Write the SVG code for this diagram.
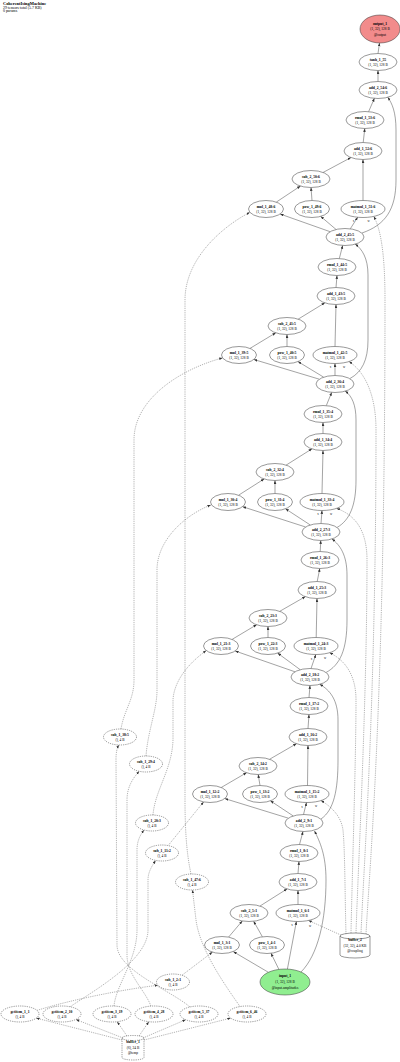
<svg xmlns="http://www.w3.org/2000/svg" width="400" height="1062" viewBox="0 0 400 1062">
<defs>
<marker id="ah" markerWidth="4" markerHeight="3" refX="3.4" refY="1.3" orient="auto" markerUnits="userSpaceOnUse"><path d="M0,0 L3.4,1.3 L0,2.6 z" fill="#333"/></marker>
</defs>
<style>
.nd ellipse,.nd path{fill:#fff;stroke:#333;stroke-width:0.5}
.ds ellipse,.ds path{stroke-dasharray:1.2,1}
text{font-family:'Liberation Serif','Times New Roman',serif;font-size:3.5px;text-anchor:middle;fill:#000}
.b{font-weight:bold;font-size:3.7px}
#edges path{fill:none;stroke:#333;stroke-width:0.45;marker-end:url(#ah)}
#edges path.dd{stroke:#555;stroke-dasharray:1.2,1}
.lb{font-size:3px}
#title text{text-anchor:start}
</style>
<rect width="400" height="1062" fill="#fff"/>
<g id="title">
<text x="3" y="4.8" class="b" style="font-size:4.4px">CoherentIsingMachine</text>
<text x="3" y="8.6" style="font-size:3.9px">29 tensors total (5.7 KB)</text>
<text x="3" y="12.4" style="font-size:3.9px">0 params</text>
</g>
<g id="edges">
<path d="M268.4,972.3 L233.4,951.7"/>
<path d="M278.9,969.4 L271,953.3"/>
<path d="M287.4,969.1 L296.4,921.5"/>
<path d="M301,972 C318,955 326,920 326,880 C326,855 320,842 314.5,831"/>
<path d="M228.6,937.1 L242.3,920.9"/>
<path d="M262.4,936.8 L253.6,921.2"/>
<path d="M259.9,906.1 L287.1,888.9"/>
<path d="M298,904.5 L298,890.5"/>
<path d="M298,873.5 L299,861.5"/>
<path d="M299.5,844.5 L303,831.5"/>
<path class="dd" d="M343,936 L308.5,920.5"/>
<path class="dd" d="M181.9,975.3 L212.5,952.1"/>
<path d="M288.4,818.2 L224.8,798.6"/>
<path d="M293.3,816 L270.4,800.8"/>
<path d="M303.5,814.5 L306.5,802.5"/>
<path d="M321,819 C334,810 338,790 338,760 L338,720 C338,700 330,690 319.7,684.3"/>
<path class="dd" d="M168.1,845.6 L203.6,801.9"/>
<path d="M221.2,787.5 L246.6,772.7"/>
<path d="M260,785.5 L258.2,774.5"/>
<path d="M269.5,759.3 L296.5,743.7"/>
<path d="M307.5,785.5 L308,745.5"/>
<path d="M308,728.5 L309,714.5"/>
<path d="M309,697.5 L310,685.5"/>
<path class="dd" d="M346,934 C345,900 345,850 343,830 C341,815 330,806 321,800.5"/>
<path d="M295,671.8 L235.2,651"/>
<path d="M300.2,669.7 L277.6,653.1"/>
<path d="M311,668.6 L315.8,654.5"/>
<path d="M326,672.5 C340,665 347,650 347,620 L347,575 C347,555 340,545 332,539"/>
<path class="dd" d="M153,815 C155,790 172,770 173,740 L173,700 C174,680 190,662 206.3,650.6"/>
<path d="M232.1,639.4 L256.7,624.7"/>
<path d="M268,637.5 L268,626.5"/>
<path d="M279.6,611.4 L305.4,596.6"/>
<path d="M316.2,637.5 L317,598.5"/>
<path d="M317.2,581.5 L319.8,568.5"/>
<path d="M320.2,551.5 L320.8,540.5"/>
<path class="dd" d="M351,933 C352,880 356,760 356,700 C356,675 345,660 329.5,652.7"/>
<path d="M305.6,527 L242.6,506.7"/>
<path d="M310.3,525 L285.5,508.8"/>
<path d="M321,523.5 L322,510.5"/>
<path d="M337,527.5 C350,520 356,505 356,480 L356,420 C356,405 352,396 345.2,391.1"/>
<path class="dd" d="M146,756 C148,730 157,710 157,690 L157,570 C157,540 185,515 210.8,505"/>
<path d="M238.6,495.2 L264.2,478.9"/>
<path d="M275,493.5 L275,480.5"/>
<path d="M286,465.2 L312,448.8"/>
<path d="M322,493.5 L323,450.5"/>
<path d="M323,433.5 L323,422.5"/>
<path d="M326.3,405.6 L331.7,392.4"/>
<path class="dd" d="M356,933 C358,870 367,700 367,560 C367,530 355,515 336.6,508.4"/>
<path d="M319.3,379.2 L253.9,359.5"/>
<path d="M323.7,377.2 L298,361.6"/>
<path d="M335,375.5 L335,363.5"/>
<path d="M350,378.5 C362,372 368,360 368,340 L368,275 C368,258 362,249 355.2,244.1"/>
<path class="dd" d="M121,729 C124,710 134,700 134,680 L134,440 C134,400 178,370 222.6,357.9"/>
<path d="M250,348.4 L275.8,332.8"/>
<path d="M287,346.5 L287,334.5"/>
<path d="M298.1,319.2 L324.9,302.8"/>
<path d="M335,346.5 L336,304.5"/>
<path d="M336,287.5 L337,275.5"/>
<path d="M339.3,258.6 L342.7,245.4"/>
<path class="dd" d="M361,934 C364,860 376,700 376,430 C376,395 365,372 349,361.5"/>
<path d="M330.1,231.7 L280.1,214"/>
<path d="M336.1,229.5 L320.7,216.4"/>
<path d="M350.3,228.8 L357.7,217.2"/>
<path d="M362,233 C385,225 396,210 396,180 L396,130 C396,112 392,103 387.7,97.3"/>
<path class="dd" d="M191,874 C188,860 185,840 185,800 L185,300 C185,260 220,228 249.9,212.3"/>
<path d="M276.3,202.1 L300.5,186"/>
<path d="M312,200.5 L311,187.5"/>
<path d="M323,172.5 L351,157.5"/>
<path d="M363,200.5 L363,159.5"/>
<path d="M363.2,142.5 L364.8,128.5"/>
<path d="M368.6,111.7 L374.4,98.3"/>
<path d="M378,81.5 L378,70.5"/>
<path d="M378,53.5 L379.5,43"/>
<path class="dd" d="M366,934 C370,860 385,700 385,300 C385,250 380,228 373.8,216.4"/>
<path class="dd" d="M122,1040 L36.2,1018.1"/>
<path class="dd" d="M123,1038 L75.9,1019.5"/>
<path class="dd" d="M127,1036 L117.2,1021.7"/>
<path class="dd" d="M139,1036 L148.8,1021.7"/>
<path class="dd" d="M143,1038 L185.7,1019.7"/>
<path class="dd" d="M144,1040 L230.7,1018.1"/>
<path class="dd" d="M37,1010.4 C70,1000 120,990 157.9,985.2"/>
<path class="dd" d="M70,1006.8 C95,990 148,960 148,930 L148,880 C148,872 152,866 155.6,860.4"/>
<path class="dd" d="M114,1006 C116,985 137,960 137,930 L137,850 C137,840 141,834 144,830"/>
<path class="dd" d="M151,1006.2 C145,990 127,975 127,955 L127,800 C127,785 135,776 139.2,771.3"/>
<path class="dd" d="M190,1007 C170,990 117,970 117,945 L116,760 C116,752 117,748 119,745"/>
<path class="dd" d="M240,1006.5 C225,985 200,950 196,920 L192.5,890"/>
</g>
<g id="edge-labels">
<text class="lb" x="292" y="926">x</text><text class="lb" x="310" y="926.5">w</text>
<text class="lb" x="302" y="807.5">x</text><text class="lb" x="316" y="807">w</text>
<text class="lb" x="311.5" y="659.5">x</text><text class="lb" x="325" y="659">w</text>
<text class="lb" x="318" y="515">x</text><text class="lb" x="331" y="514.5">w</text>
<text class="lb" x="330.5" y="368">x</text><text class="lb" x="344" y="367.5">w</text>
<text class="lb" x="353.5" y="222">x</text><text class="lb" x="368.5" y="221.5">w</text>
</g>
<g id="output_1" class="nd"><ellipse cx="380" cy="29" rx="20" ry="14" style="fill:#f28b8b"/><text x="380" y="25.2" class="b">output_1</text><text x="380" y="30.4">(1, 32), 128 B</text><text x="380" y="35.6">@output</text></g>
<g id="tanh_1_55" class="nd"><ellipse cx="378" cy="62" rx="19" ry="8.5"/><text x="378" y="60.8" class="b">tanh_1_55</text><text x="378" y="66.2">(1, 32), 128 B</text></g>
<g id="add_2_54_6" class="nd"><ellipse cx="378" cy="90" rx="19" ry="8.5"/><text x="378" y="88.8" class="b">add_2_54:6</text><text x="378" y="94.2">(1, 32), 128 B</text></g>
<g id="rmul_1_53_6" class="nd"><ellipse cx="365" cy="120" rx="19" ry="8.5"/><text x="365" y="118.8" class="b">rmul_1_53:6</text><text x="365" y="124.2">(1, 32), 128 B</text></g>
<g id="add_1_52_6" class="nd"><ellipse cx="363" cy="151" rx="19" ry="8.5"/><text x="363" y="149.8" class="b">add_1_52:6</text><text x="363" y="155.2">(1, 32), 128 B</text></g>
<g id="sub_2_50_6" class="nd"><ellipse cx="311" cy="179" rx="19" ry="8.5"/><text x="311" y="177.8" class="b">sub_2_50:6</text><text x="311" y="183.2">(1, 32), 128 B</text></g>
<g id="mul_1_48_6" class="nd"><ellipse cx="266" cy="209" rx="17.5" ry="8.5"/><text x="266" y="207.8" class="b">mul_1_48:6</text><text x="266" y="213.2">(1, 32), 128 B</text></g>
<g id="pow_1_49_6" class="nd"><ellipse cx="312" cy="209" rx="17.5" ry="8.5"/><text x="312" y="207.8" class="b">pow_1_49:6</text><text x="312" y="213.2">(1, 32), 128 B</text></g>
<g id="matmul_1_51_6" class="nd"><ellipse cx="363" cy="209" rx="22" ry="8.5"/><text x="363" y="207.8" class="b">matmul_1_51:6</text><text x="363" y="213.2">(1, 32), 128 B</text></g>
<g id="add_2_45_5" class="nd"><ellipse cx="345" cy="237" rx="19" ry="8.5"/><text x="345" y="235.8" class="b">add_2_45:5</text><text x="345" y="241.2">(1, 32), 128 B</text></g>
<g id="rmul_1_44_5" class="nd"><ellipse cx="337" cy="267" rx="19" ry="8.5"/><text x="337" y="265.8" class="b">rmul_1_44:5</text><text x="337" y="271.2">(1, 32), 128 B</text></g>
<g id="add_1_43_5" class="nd"><ellipse cx="336" cy="296" rx="19" ry="8.5"/><text x="336" y="294.8" class="b">add_1_43:5</text><text x="336" y="300.2">(1, 32), 128 B</text></g>
<g id="sub_2_41_5" class="nd"><ellipse cx="287" cy="326" rx="19" ry="8.5"/><text x="287" y="324.8" class="b">sub_2_41:5</text><text x="287" y="330.2">(1, 32), 128 B</text></g>
<g id="mul_1_39_5" class="nd"><ellipse cx="239" cy="355" rx="17.5" ry="8.5"/><text x="239" y="353.8" class="b">mul_1_39:5</text><text x="239" y="359.2">(1, 32), 128 B</text></g>
<g id="pow_1_40_5" class="nd"><ellipse cx="287" cy="355" rx="17.5" ry="8.5"/><text x="287" y="353.8" class="b">pow_1_40:5</text><text x="287" y="359.2">(1, 32), 128 B</text></g>
<g id="matmul_1_42_5" class="nd"><ellipse cx="335" cy="355" rx="22" ry="8.5"/><text x="335" y="353.8" class="b">matmul_1_42:5</text><text x="335" y="359.2">(1, 32), 128 B</text></g>
<g id="add_2_36_4" class="nd"><ellipse cx="335" cy="384" rx="19" ry="8.5"/><text x="335" y="382.8" class="b">add_2_36:4</text><text x="335" y="388.2">(1, 32), 128 B</text></g>
<g id="rmul_1_35_4" class="nd"><ellipse cx="323" cy="414" rx="19" ry="8.5"/><text x="323" y="412.8" class="b">rmul_1_35:4</text><text x="323" y="418.2">(1, 32), 128 B</text></g>
<g id="add_1_34_4" class="nd"><ellipse cx="323" cy="442" rx="19" ry="8.5"/><text x="323" y="440.8" class="b">add_1_34:4</text><text x="323" y="446.2">(1, 32), 128 B</text></g>
<g id="sub_2_32_4" class="nd"><ellipse cx="275" cy="472" rx="19" ry="8.5"/><text x="275" y="470.8" class="b">sub_2_32:4</text><text x="275" y="476.2">(1, 32), 128 B</text></g>
<g id="mul_1_30_4" class="nd"><ellipse cx="228" cy="502" rx="17.5" ry="8.5"/><text x="228" y="500.8" class="b">mul_1_30:4</text><text x="228" y="506.2">(1, 32), 128 B</text></g>
<g id="pow_1_31_4" class="nd"><ellipse cx="275" cy="502" rx="17.5" ry="8.5"/><text x="275" y="500.8" class="b">pow_1_31:4</text><text x="275" y="506.2">(1, 32), 128 B</text></g>
<g id="matmul_1_33_4" class="nd"><ellipse cx="322" cy="502" rx="22" ry="8.5"/><text x="322" y="500.8" class="b">matmul_1_33:4</text><text x="322" y="506.2">(1, 32), 128 B</text></g>
<g id="add_2_27_3" class="nd"><ellipse cx="321" cy="532" rx="19" ry="8.5"/><text x="321" y="530.8" class="b">add_2_27:3</text><text x="321" y="536.2">(1, 32), 128 B</text></g>
<g id="rmul_1_26_3" class="nd"><ellipse cx="320" cy="560" rx="19" ry="8.5"/><text x="320" y="558.8" class="b">rmul_1_26:3</text><text x="320" y="564.2">(1, 32), 128 B</text></g>
<g id="add_1_25_3" class="nd"><ellipse cx="317" cy="590" rx="19" ry="8.5"/><text x="317" y="588.8" class="b">add_1_25:3</text><text x="317" y="594.2">(1, 32), 128 B</text></g>
<g id="sub_2_23_3" class="nd"><ellipse cx="268" cy="618" rx="19" ry="8.5"/><text x="268" y="616.8" class="b">sub_2_23:3</text><text x="268" y="622.2">(1, 32), 128 B</text></g>
<g id="mul_1_21_3" class="nd"><ellipse cx="221" cy="646" rx="17.5" ry="8.5"/><text x="221" y="644.8" class="b">mul_1_21:3</text><text x="221" y="650.2">(1, 32), 128 B</text></g>
<g id="pow_1_22_3" class="nd"><ellipse cx="268" cy="646" rx="17.5" ry="8.5"/><text x="268" y="644.8" class="b">pow_1_22:3</text><text x="268" y="650.2">(1, 32), 128 B</text></g>
<g id="matmul_1_24_3" class="nd"><ellipse cx="316" cy="646" rx="22" ry="8.5"/><text x="316" y="644.8" class="b">matmul_1_24:3</text><text x="316" y="650.2">(1, 32), 128 B</text></g>
<g id="add_2_18_2" class="nd"><ellipse cx="310" cy="677" rx="19" ry="8.5"/><text x="310" y="675.8" class="b">add_2_18:2</text><text x="310" y="681.2">(1, 32), 128 B</text></g>
<g id="rmul_1_17_2" class="nd"><ellipse cx="309" cy="706" rx="19" ry="8.5"/><text x="309" y="704.8" class="b">rmul_1_17:2</text><text x="309" y="710.2">(1, 32), 128 B</text></g>
<g id="add_1_16_2" class="nd"><ellipse cx="308" cy="737" rx="19" ry="8.5"/><text x="308" y="735.8" class="b">add_1_16:2</text><text x="308" y="741.2">(1, 32), 128 B</text></g>
<g id="sub_2_14_2" class="nd"><ellipse cx="258" cy="766" rx="19" ry="8.5"/><text x="258" y="764.8" class="b">sub_2_14:2</text><text x="258" y="770.2">(1, 32), 128 B</text></g>
<g id="mul_1_12_2" class="nd"><ellipse cx="210" cy="794" rx="17.5" ry="8.5"/><text x="210" y="792.8" class="b">mul_1_12:2</text><text x="210" y="798.2">(1, 32), 128 B</text></g>
<g id="pow_1_13_2" class="nd"><ellipse cx="260" cy="794" rx="17.5" ry="8.5"/><text x="260" y="792.8" class="b">pow_1_13:2</text><text x="260" y="798.2">(1, 32), 128 B</text></g>
<g id="matmul_1_15_2" class="nd"><ellipse cx="307" cy="794" rx="22" ry="8.5"/><text x="307" y="792.8" class="b">matmul_1_15:2</text><text x="307" y="798.2">(1, 32), 128 B</text></g>
<g id="add_2_9_1" class="nd"><ellipse cx="304" cy="823" rx="19" ry="8.5"/><text x="304" y="821.8" class="b">add_2_9:1</text><text x="304" y="827.2">(1, 32), 128 B</text></g>
<g id="rmul_1_8_1" class="nd"><ellipse cx="299" cy="853" rx="19" ry="8.5"/><text x="299" y="851.8" class="b">rmul_1_8:1</text><text x="299" y="857.2">(1, 32), 128 B</text></g>
<g id="add_1_7_1" class="nd"><ellipse cx="298" cy="882" rx="19" ry="8.5"/><text x="298" y="880.8" class="b">add_1_7:1</text><text x="298" y="886.2">(1, 32), 128 B</text></g>
<g id="sub_2_5_1" class="nd"><ellipse cx="249" cy="913" rx="19" ry="8.5"/><text x="249" y="911.8" class="b">sub_2_5:1</text><text x="249" y="917.2">(1, 32), 128 B</text></g>
<g id="matmul_1_6_1" class="nd"><ellipse cx="298" cy="913" rx="22" ry="8.5"/><text x="298" y="911.8" class="b">matmul_1_6:1</text><text x="298" y="917.2">(1, 32), 128 B</text></g>
<g id="mul_1_3_1" class="nd"><ellipse cx="222" cy="945" rx="17.5" ry="8.5"/><text x="222" y="943.8" class="b">mul_1_3:1</text><text x="222" y="949.2">(1, 32), 128 B</text></g>
<g id="pow_1_4_1" class="nd"><ellipse cx="267" cy="945" rx="17.5" ry="8.5"/><text x="267" y="943.8" class="b">pow_1_4:1</text><text x="267" y="949.2">(1, 32), 128 B</text></g>
<g id="input_1" class="nd"><ellipse cx="285" cy="982" rx="25" ry="13" style="fill:#90ee90"/><text x="285" y="977.4" class="b">input_1</text><text x="285" y="983">(1, 32), 128 B</text><text x="285" y="988.6">@input.amplitudes</text></g>
<g id="buffer_2" class="nd"><path d="M340,936 A15,3 0 0,1 370,936 L370,955 A15,3 0 0,1 340,955 Z"/><path d="M340,936 A15,3 0 0,0 370,936" style="fill:none"/><text x="355" y="941.4" class="b">buffer_2</text><text x="355" y="946.8">(32, 32), 4.0 KB</text><text x="355" y="952.2">@coupling</text></g>
<g id="sub_1_2_1" class="nd ds"><ellipse cx="173" cy="982" rx="16.5" ry="8"/><text x="173" y="980.8" class="b">sub_1_2:1</text><text x="173" y="986.2">(), 4 B</text></g>
<g id="sub_1_11_2" class="nd ds"><ellipse cx="162" cy="853" rx="16.5" ry="8"/><text x="162" y="851.8" class="b">sub_1_11:2</text><text x="162" y="857.2">(), 4 B</text></g>
<g id="sub_1_20_3" class="nd ds"><ellipse cx="152" cy="823" rx="16.5" ry="8"/><text x="152" y="821.8" class="b">sub_1_20:3</text><text x="152" y="827.2">(), 4 B</text></g>
<g id="sub_1_29_4" class="nd ds"><ellipse cx="146" cy="764" rx="16.5" ry="8"/><text x="146" y="762.8" class="b">sub_1_29:4</text><text x="146" y="768.2">(), 4 B</text></g>
<g id="sub_1_38_5" class="nd ds"><ellipse cx="120" cy="737" rx="16.5" ry="8"/><text x="120" y="735.8" class="b">sub_1_38:5</text><text x="120" y="741.2">(), 4 B</text></g>
<g id="sub_1_47_6" class="nd ds"><ellipse cx="192" cy="882" rx="16.5" ry="8"/><text x="192" y="880.8" class="b">sub_1_47:6</text><text x="192" y="886.2">(), 4 B</text></g>
<g id="getitem_1_1" class="nd ds"><ellipse cx="20" cy="1014" rx="19" ry="8"/><text x="20" y="1012.8" class="b">getitem_1_1</text><text x="20" y="1018.2">(), 4 B</text></g>
<g id="getitem_2_10" class="nd ds"><ellipse cx="62" cy="1014" rx="19" ry="8"/><text x="62" y="1012.8" class="b">getitem_2_10</text><text x="62" y="1018.2">(), 4 B</text></g>
<g id="getitem_3_19" class="nd ds"><ellipse cx="112" cy="1014" rx="19" ry="8"/><text x="112" y="1012.8" class="b">getitem_3_19</text><text x="112" y="1018.2">(), 4 B</text></g>
<g id="getitem_4_28" class="nd ds"><ellipse cx="154" cy="1014" rx="19" ry="8"/><text x="154" y="1012.8" class="b">getitem_4_28</text><text x="154" y="1018.2">(), 4 B</text></g>
<g id="getitem_5_37" class="nd ds"><ellipse cx="199" cy="1014" rx="19" ry="8"/><text x="199" y="1012.8" class="b">getitem_5_37</text><text x="199" y="1018.2">(), 4 B</text></g>
<g id="getitem_6_46" class="nd ds"><ellipse cx="247" cy="1014" rx="19" ry="8"/><text x="247" y="1012.8" class="b">getitem_6_46</text><text x="247" y="1018.2">(), 4 B</text></g>
<g id="buffer_1" class="nd ds"><path d="M122,1038 A11,2.5 0 0,1 144,1038 L144,1057.5 A11,2.5 0 0,1 122,1057.5 Z"/><path d="M122,1038 A11,2.5 0 0,0 144,1038" style="fill:none"/><text x="133" y="1043.2" class="b">buffer_1</text><text x="133" y="1048.6">(6), 24 B</text><text x="133" y="1054">@temp</text></g>
</svg>
